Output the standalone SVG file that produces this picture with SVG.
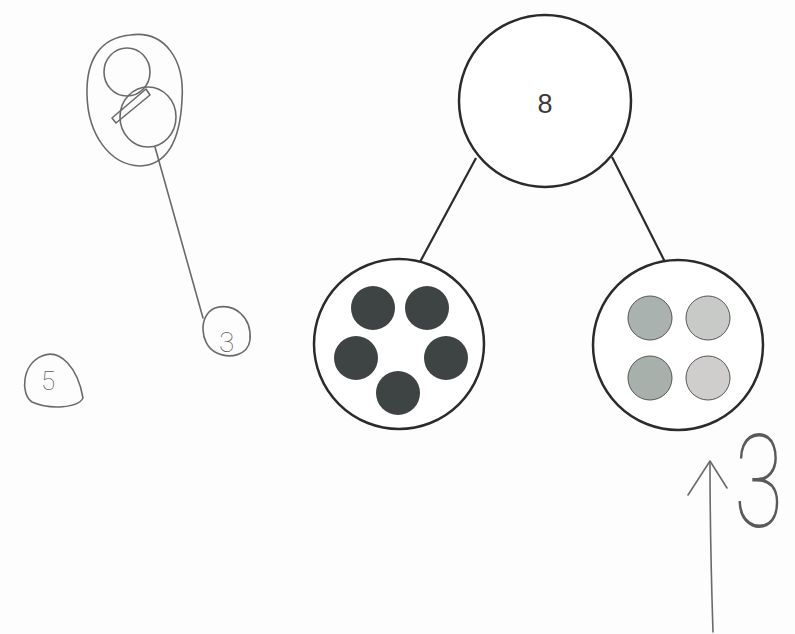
<svg xmlns="http://www.w3.org/2000/svg" width="795" height="634" viewBox="0 0 795 634">
<style>
.bond{fill:#fff;stroke:#2b2b2b;stroke-width:2.5}
.edge{stroke:#2b2b2b;stroke-width:2.2;fill:none}
.dark{fill:#3e4443}
.pen{fill:none;stroke:#6a6a6a;stroke-width:1.6;stroke-linecap:round;stroke-linejoin:round}
.hand{font-family:Roboto,Inter,"Liberation Sans",sans-serif;font-weight:100;fill:#5a5a5a}
.num{font-family:"Liberation Sans",Arial,sans-serif;font-size:27px;fill:#3a3a3a}
</style>
<rect width="795" height="634" fill="#fdfdfd"/>
<g id="connectors">
<line class="edge" x1="476" y1="158" x2="420" y2="262"/>
<line class="edge" x1="612" y1="157" x2="665" y2="262"/>
</g>
<g id="whole">
<circle class="bond" cx="545" cy="101" r="86"/>
<text class="num" x="545" y="113" text-anchor="middle">8</text>
</g>
<g id="part-left">
<circle class="bond" cx="399" cy="344" r="85"/>
<circle class="dark" cx="373" cy="308" r="22"/>
<circle class="dark" cx="427" cy="308" r="22"/>
<circle class="dark" cx="356" cy="358" r="22"/>
<circle class="dark" cx="446" cy="358" r="22"/>
<circle class="dark" cx="398" cy="393" r="22"/>
</g>
<g id="part-right">
<circle class="bond" cx="678" cy="345" r="85"/>
<circle cx="650" cy="318" r="22" fill="#a9b2ae" stroke="#555" stroke-width="1"/>
<circle cx="708" cy="318" r="22" fill="#c8cac8" stroke="#555" stroke-width="1"/>
<circle cx="650" cy="378" r="22" fill="#a7b0ab" stroke="#555" stroke-width="1"/>
<circle cx="708" cy="378" r="22" fill="#d0cdcd" stroke="#555" stroke-width="1"/>
</g>
<g id="handwriting">
<path class="pen" d="M130 35 C 165 30, 185 60, 182 100 C 180 140, 168 165, 140 166 C 110 165, 88 135, 87 95 C 86 60, 100 38, 130 35 Z"/>
<ellipse class="pen" cx="127" cy="72" rx="23" ry="24"/>
<ellipse class="pen" cx="148" cy="117" rx="28" ry="30"/>
<path class="pen" d="M112 118 L146 89 L150 95 L116 123 Z"/>
<line class="pen" x1="155" y1="147" x2="203" y2="318"/>
<path class="pen" d="M215 308 C 235 302, 252 318, 250 340 C 248 355, 230 360, 215 352 C 200 344, 198 315, 215 308 Z"/>
<text class="hand" x="219" y="352" font-size="28">3</text>
<path class="pen" d="M42 356 C 60 348, 78 368, 83 398 C 78 408, 50 410, 32 402 C 20 394, 22 364, 42 356 Z"/>
<text class="hand" x="41" y="390" font-size="26">5</text>
<path class="pen" d="M713 632 C 712 600, 710 540, 710 463"/>
<path class="pen" d="M688 495 L710 461 L727 488"/>
<text class="hand" transform="translate(734,527) scale(0.9,1.3)" x="0" y="0" font-size="100">3</text>
</g>
</svg>
